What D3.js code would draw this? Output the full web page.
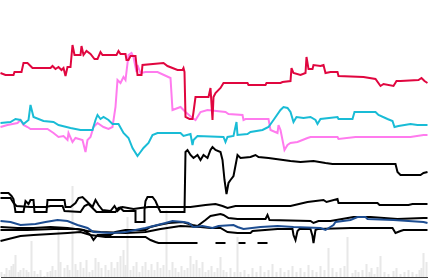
<!DOCTYPE html>
<html>
<head>
<meta charset="utf-8">
<script src="https://cdn.jsdelivr.net/npm/d3@7"></script>
<style>
  html, body { margin: 0; padding: 0; background: #fff; }
  svg { display: block; }
</style>
</head>
<body>
<div id="vis-tag"></div>
<script>
// day index, index value
const redSeries = [[0,40.6],[5,40.2],[13,40.2],[14,40.8],[21,40.8],[23,42.6],[27,42.6],[30,42],[32,41.6],[50,41.6],[52,42],[55,41.4],[58,41.8],[61,41.2],[63,41.6],[65,40],[67,41.8],[70,41.8],[72,46.2],[74,44.2],[80,44.2],[81,46],[83,44.2],[86,45],[90,44.4],[94,43.4],[97,43.4],[100,44.8],[102,44.2],[116,44.2],[118,45],[120,44.4],[125,44.4],[126,43.2],[128,43.2],[130,44],[135,44],[137,40.2],[141,40.2],[142,42.2],[163,42.6],[167,42],[172,41.6],[177,41.2],[182,41.2],[183,41.6],[184,40.8],[185,31.8],[189,31.4],[192,31.4],[193,32.8],[195,35.8],[208,35.8],[210,37.6],[212,31.2],[213,35.8],[215,36.6],[220,37.6],[223,38.6],[247,38.6],[248,38.2],[265,38.2],[266,38.6],[280,38.6],[282,38.8],[290,39],[291,41.6],[293,40.6],[300,40.2],[305,40.6],[306,43.8],[308,41.4],[312,41.4],[313,42.2],[320,42],[323,42.2],[325,40.6],[330,40.8],[337,40.8],[338,40],[363,39.8],[375,39.4],[380,38],[383,38.4],[393,38],[396,39],[400,39],[418,39.2],[421,39.6],[424,39],[427,38.6]];

const pinkSeries = [[0,29.8],[7,30.2],[17,30.6],[20,31.2],[23,30.2],[27,29.8],[30,29.4],[47,29.4],[53,28.6],[58,27.8],[63,28],[67,27.2],[68,28.6],[72,26.8],[75,27.6],[82,27.2],[85,24.8],[87,27.2],[90,27.8],[93,29.8],[97,30.6],[103,29.8],[108,29.4],[112,29.8],[115,33.8],[117,39.2],[120,38.6],[123,39.8],[125,39.2],[128,44.2],[131,44.6],[133,43.8],[136,40.8],[137,42.2],[140,40.6],[145,40.8],[157,40.8],[170,39.6],[172,33.2],[180,33.8],[185,32.8],[192,31.6],[195,31.2],[200,32.8],[207,33.2],[225,32.8],[228,32.4],[242,32.2],[243,31.2],[245,31.4],[268,31.4],[270,29.2],[277,28.6],[278,30.2],[280,29.2],[283,26.2],[284,25.2],[287,26.2],[290,26.6],[297,26.8],[307,27.6],[310,27.8],[337,27.8],[338,27.4],[355,27.8],[410,27.8],[423,28.2],[427,28.2]];

const cyanSeries = [[0,30.6],[10,30.8],[15,31.4],[20,31.2],[23,30.4],[28,31.2],[30,34.2],[32,32.6],[33,31.8],[43,31],[53,30.8],[58,30.2],[70,29.6],[80,29.2],[92,29.2],[95,31.2],[97,32.2],[100,31.4],[103,31.8],[108,31.2],[112,30.4],[118,30.4],[123,28.6],[128,27.6],[132,25.6],[137,24],[140,24.8],[143,25.6],[148,26.6],[152,28.2],[157,28.6],[180,28.6],[183,28],[190,28.4],[192,26.2],[193,27.2],[197,28],[223,27.8],[225,26.8],[227,27.8],[233,28],[236,30.8],[237,28.2],[247,28.4],[250,28.8],[262,29.2],[268,29.8],[273,31.2],[280,33.2],[283,33.8],[287,33.6],[290,32.8],[293,30.8],[296,31.8],[303,31.6],[310,31.8],[315,31.2],[317,30.4],[320,31.4],[337,31.8],[338,31.4],[352,31.4],[354,32.8],[375,32.8],[378,32.2],[387,31.4],[392,31],[394,29.8],[398,30],[410,30.4],[417,30.2],[427,30.2]];

const blackA = [[0,16.6],[8,16.6],[11,16],[13,15.4],[15,12.8],[23,12.8],[25,15],[28,14.4],[30,15.2],[33,15.2],[34,12.8],[46,12.8],[47,15.2],[64,15.2],[65,13.8],[70,13.8],[75,14.6],[78,15.6],[82,15.8],[85,15.2],[88,14.6],[92,13.8],[95,15.2],[98,14.2],[102,13.2],[110,13],[114,14],[117,13],[120,13.6],[123,13],[135,13],[135,10.8],[144,10.8],[144,13.2],[145,15],[147,15.8],[152,15.8],[155,15],[158,13.6],[160,12.8],[184,12.8],[185,24.8],[187,25.2],[190,24.2],[193,23.6],[197,24.2],[200,23.2],[203,24.2],[207,23.6],[210,25.2],[212,25.8],[215,25.2],[220,24.8],[222,23.2],[224,19.2],[226,16.4],[228,18.6],[230,19.2],[233,20],[237,24.2],[240,23.6],[250,23.8],[255,24.2],[258,23.8],[268,23.6],[290,23],[300,22.8],[313,23],[325,22.6],[332,22.4],[395,22.4],[397,20.8],[400,20.2],[420,20.2],[423,20.6],[427,20.8]];

const blackB = [[0,15.6],[10,15.6],[13,14.6],[16,14],[30,13.8],[45,13.8],[50,14],[62,14],[64,13],[80,12.8],[84,14],[88,14.4],[92,13.6],[96,12.8],[115,12.8],[118,13.6],[122,13.8],[133,13.4],[140,13.6],[148,13.8],[190,13.8],[205,14.2],[215,14.4],[222,14],[227,13.6],[235,14],[290,14],[307,14.8],[323,15.2],[326,14.8],[337,15.4],[338,14.6],[377,14.6],[379,14.2],[408,14.2],[412,14.4],[427,14.4]];

const blackC = [[0,9.8],[17,9.6],[33,9.6],[50,9.8],[67,9.6],[83,9.2],[90,8.2],[93,7.2],[97,8.2],[110,8.2],[115,8.8],[125,9.2],[145,9.2],[150,9.8],[158,10.2],[168,10.6],[182,10.8],[192,10.2],[197,10],[205,11.2],[210,12],[220,12.4],[223,12.2],[228,11.6],[237,11.4],[265,11.4],[267,12.2],[269,11.2],[310,11],[313,10.6],[318,11],[330,11],[353,11.8],[370,11.8],[397,11.4],[423,11.6],[427,11.6]];

const blackD = [[0,9.2],[27,9.2],[53,9.4],[77,9.4],[87,9],[100,8.8],[125,8.6],[145,8.8],[160,9.4],[180,10],[200,9.8],[210,9.6],[220,9.6],[227,8.8],[237,8.6],[250,8.6],[252,9],[277,9.4],[292,9.4],[293,8.2],[295,7.2],[297,9],[299,9.4],[310,9.4],[312,8],[313,6.6],[315,9.2],[317,9.4],[350,9.6],[392,9.6],[395,8.6],[400,9],[403,9.2],[427,9.2]];

// null = no value that day
const blackE = [[0,7],[12,7.6],[20,8],[33,8.2],[67,8.6],[80,8.8],[90,8.2],[105,7.8],[145,7.8],[150,7.2],[155,6.8],[158,6.6],[197,6.6],[205,null],[215,6.6],[225,6.6],[230,null],[238,6.6],[245,6.6],[250,null],[257,6.6],[267,6.6]];

const blueSeries = [[0,11],[10,10.8],[20,10.2],[35,10.4],[45,10.8],[57,11.2],[67,11],[77,10.2],[87,9.6],[93,8.8],[110,8.6],[125,8.8],[145,9.6],[165,10.6],[172,11],[183,10.8],[188,10.6],[193,9.8],[202,10],[212,9.6],[218,10],[233,10.2],[237,9.8],[243,9.4],[260,9.8],[277,10],[293,9.8],[320,9.6],[325,9.2],[333,10.2],[335,10.8],[350,11.2],[357,11.8],[365,11.8],[367,11.4],[393,11.2],[423,10.8],[427,10.6]];

// volume bars
const volDays = [1,4,6,9,11,13,15,18,20,23,26,28,31,34,37,40,44,47,50,52,55,58,60,64,67,69,72,75,77,80,83,86,89,92,95,98,101,105,108,111,114,117,120,123,125,127,130,133,136,139,142,145,148,151,154,157,160,163,166,169,172,175,178,181,184,187,190,193,196,199,202,205,208,211,214,217,220,223,226,230,234,237,240,244,248,252,256,260,264,268,272,276,280,284,288,292,296,300,304,308,312,316,320,324,328,332,336,340,344,347,352,355,358,362,366,369,371,374,377,380,384,388,393,396,400,404,408,412,416,419,421,423,426];
const volValues = [5,3,9,7,11,13,22,5,7,9,7,5,36,6,3,7,1,5,6,11,7,47,15,9,12,7,91,13,7,15,9,17,5,7,19,15,9,12,7,15,9,15,21,27,12,60,7,11,15,5,11,15,7,13,7,15,9,12,67,7,15,9,5,11,7,9,21,13,17,9,15,5,7,11,5,9,20,7,5,9,5,40,5,7,3,9,5,11,5,7,13,5,9,5,7,11,5,9,5,12,7,5,11,7,29,9,5,9,11,40,4,7,5,7,13,5,9,3,10,21,5,3,6,9,3,5,7,5,3,7,9,24,15];

const width = 428;
const height = 278;

const svg = d3.select("#vis-tag")
  .append("svg")
  .attr("width", width)
  .attr("height", height);

const x = d3.scaleLinear().domain([0, 427]).range([0.5, 427.5]);
const y = d3.scaleLinear().domain([0, 55.2]).range([276, 0]);
const yVol = d3.scaleLinear().domain([0, 92]).range([277, 185]);

// volume bars
svg.append("g")
  .selectAll("rect")
  .data(volDays.map((d, i) => ({ day: d, v: volValues[i] })))
  .enter()
  .append("rect")
  .attr("x", d => x(d.day) - 1)
  .attr("y", d => yVol(d.v))
  .attr("width", 2)
  .attr("height", d => yVol(0) - yVol(d.v))
  .attr("fill", "#e8e8e8");

// bottom axis
svg.append("g")
  .attr("transform", `translate(0, ${yVol(0)})`)
  .call(d3.axisBottom(x).ticks(0).tickSizeOuter(0))
  .select(".domain")
  .attr("stroke", "#444");

const line = d3.line()
  .defined(d => d[1] !== null)
  .x(d => x(d[0]))
  .y(d => y(d[1]));

const series = [
  { data: blackE, color: "#000" },
  { data: blackD, color: "#000" },
  { data: blackC, color: "#000" },
  { data: blackB, color: "#000" },
  { data: blackA, color: "#000" },
  { data: blueSeries, color: "#1d4d91" },
  { data: pinkSeries, color: "#ff7bee" },
  { data: cyanSeries, color: "#19bcd6" },
  { data: redSeries, color: "#e0063f" }
];

svg.append("g")
  .selectAll("path")
  .data(series)
  .enter()
  .append("path")
  .attr("d", d => line(d.data))
  .attr("fill", "none")
  .attr("stroke", d => d.color)
  .attr("stroke-width", 2)
  .attr("stroke-linejoin", "miter");
</script>
</body>
</html>
